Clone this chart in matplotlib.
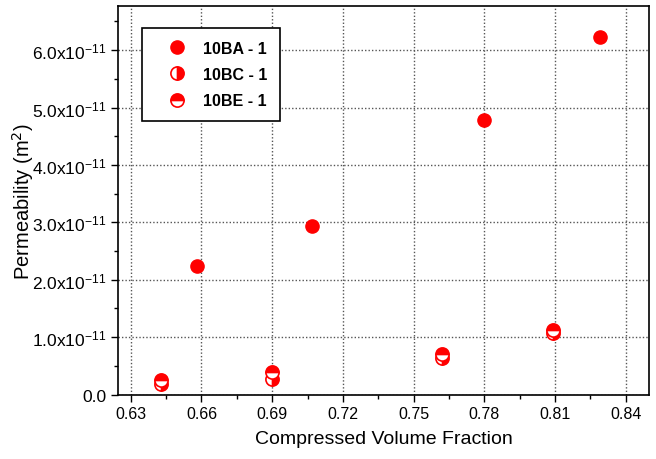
import matplotlib.pyplot as plt
from matplotlib.ticker import FixedLocator, FuncFormatter

plt.rcParams["font.family"] = ["Liberation Sans", "DejaVu Sans"]

ba_x = [0.658, 0.707, 0.780, 0.829]
ba_y = [2.24e-11, 2.93e-11, 4.78e-11, 6.23e-11]
bc_x = [0.643, 0.690, 0.762, 0.809]
bc_y = [0.18e-11, 0.28e-11, 0.63e-11, 1.08e-11]
be_x = [0.643, 0.690, 0.762, 0.809]
be_y = [0.25e-11, 0.39e-11, 0.70e-11, 1.13e-11]

x_ticks = [0.63, 0.66, 0.69, 0.72, 0.75, 0.78, 0.81, 0.84]
x_minor = [0.645, 0.675, 0.705, 0.735, 0.765, 0.795, 0.825]
y_ticks = [0, 1e-11, 2e-11, 3e-11, 4e-11, 5e-11, 6e-11]
y_minor = [0.5e-11, 1.5e-11, 2.5e-11, 3.5e-11, 4.5e-11, 5.5e-11, 6.5e-11]


def sci_fmt(v, pos):
    if abs(v) < 1e-15:
        return "0.0"
    return r"$\mathregular{%.1fx10^{-11}}$" % (v / 1e-11)


fig = plt.figure(figsize=(6.56, 4.60), dpi=100)
ax = fig.add_axes([0.180, 0.140, 0.810, 0.845])

ms = 9.5
ax.plot(ba_x, ba_y, "o", color="red", ms=ms, mec="red", label="10BA - 1")
ax.plot(bc_x, bc_y, "o", color="red", ms=ms, mec="red", fillstyle="right",
        markerfacecoloralt="white", mew=1.2, label="10BC - 1")
ax.plot(be_x, be_y, "o", color="red", ms=ms, mec="red", fillstyle="top",
        markerfacecoloralt="white", mew=1.2, label="10BE - 1")

ax.set_xlim(0.6246, 0.8501)
ax.set_ylim(0, 6.77e-11)
ax.xaxis.set_major_locator(FixedLocator(x_ticks))
ax.xaxis.set_minor_locator(FixedLocator(x_minor))
ax.yaxis.set_major_locator(FixedLocator(y_ticks))
ax.yaxis.set_minor_locator(FixedLocator(y_minor))
ax.xaxis.set_major_formatter(FuncFormatter(lambda v, p: "%.2f" % v))
ax.yaxis.set_major_formatter(FuncFormatter(sci_fmt))

ax.tick_params(which="major", direction="out", length=5, width=1)
ax.tick_params(which="minor", direction="out", length=3, width=1)
ax.tick_params(axis="x", labelsize=11.5)
ax.tick_params(axis="y", labelsize=12.5)
ax.grid(True, which="major", linestyle=(0, (1, 1.5)), color="#555555", linewidth=1)
ax.set_axisbelow(True)
for s in ax.spines.values():
    s.set_linewidth(1.2)

ax.set_xlabel("Compressed Volume Fraction", fontsize=14, labelpad=6)
ax.set_ylabel(r"Permeability (m$^2$)", fontsize=14.5)
ax.yaxis.set_label_coords(-0.155, 0.5)

leg = ax.legend(loc="upper left", bbox_to_anchor=(0.045, 0.943), borderaxespad=0,
                fancybox=False, framealpha=1, edgecolor="black",
                prop={"weight": "bold", "size": 11.5},
                handlelength=2.8, handletextpad=0.2, borderpad=0.8, labelspacing=0.7)
leg.get_frame().set_linewidth(1.2)

fig.savefig("out.png", dpi=100)
